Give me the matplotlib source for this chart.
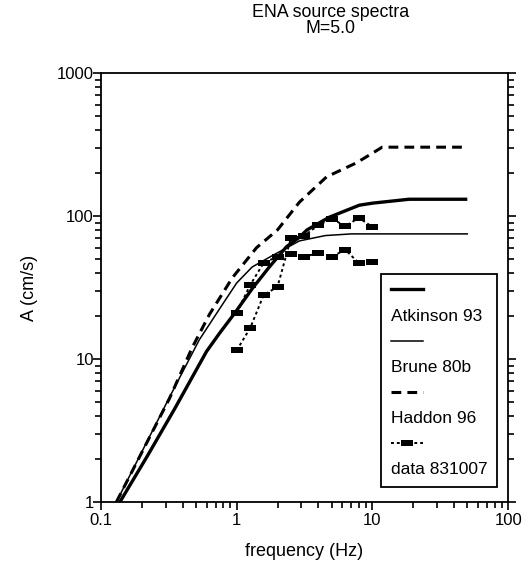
import matplotlib
matplotlib.use("Agg")
import matplotlib.pyplot as plt
from matplotlib.lines import Line2D
from matplotlib.ticker import LogLocator, FixedLocator, NullFormatter

plt.rcParams['font.family'] = ['Liberation Sans', 'DejaVu Sans']

# model curves
atk_f = [0.138, 0.22, 0.35, 0.60, 0.75, 0.97, 1.3, 1.74, 2.33, 2.9, 3.3, 4.8, 8.0, 10.0, 18.6, 50.0]
atk_a = [1.0, 2.1, 4.5, 11.3, 15.2, 21.0, 31.0, 44.0, 61.0, 71.0, 80.0, 98.0, 119.0, 123.0, 131.0, 131.0]

brune_f = [0.13, 0.32, 0.53, 0.75, 1.0, 1.3, 1.84, 2.9, 4.5, 7.0, 50.0]
brune_a = [1.0, 5.4, 13.6, 22.5, 34.0, 44.0, 53.0, 67.0, 73.0, 75.0, 75.0]

haddon_f = [0.13, 0.32, 0.47, 0.63, 0.93, 1.4, 2.0, 2.9, 4.6, 7.6, 10.0, 11.8, 48.0]
haddon_a = [1.0, 5.3, 12.0, 20.5, 37.0, 60.0, 80.0, 125.0, 188.0, 235.0, 275.0, 303.0, 303.0]

# observed spectra, event 831007 (two components)
data_f = [1.0, 1.26, 1.58, 2.0, 2.51, 3.16, 3.98, 5.01, 6.31, 7.94, 10.0]
data_a1 = [11.5, 16.5, 28.0, 32.0, 70.0, 73.0, 86.0, 96.0, 85.0, 97.0, 84.0]
data_a2 = [21.0, 33.0, 47.0, 52.0, 54.0, 52.0, 55.0, 52.0, 58.0, 47.0, 48.0]

x_ticks = [0.1, 1, 10, 100]
x_labels = ["0.1", "1", "10", "100"]
y_ticks = [1, 10, 100, 1000]
y_labels = ["1", "10", "100", "1000"]

rect = [(-1, -0.6), (1, -0.6), (1, 0.6), (-1, 0.6), (-1, -0.6)]

fig = plt.figure(figsize=(5.31, 5.66), dpi=100)
ax = fig.add_axes([0.190, 0.113, 0.767, 0.758])

ax.plot(atk_f, atk_a, color='black', lw=2.4, solid_capstyle='butt')
ax.plot(brune_f, brune_a, color='black', lw=1.1)
ax.plot(haddon_f, haddon_a, color='black', lw=2.2, linestyle=(0, (3.2, 2.0)))
ax.plot(data_f, data_a1, color='black', lw=1.4, linestyle=(0, (1.5, 1.5)),
        marker=rect, markersize=8, markerfacecolor='black', markeredgewidth=0)
ax.plot(data_f, data_a2, color='black', lw=1.4, linestyle=(0, (1.5, 1.5)),
        marker=rect, markersize=8, markerfacecolor='black', markeredgewidth=0)

ax.set_xscale('log')
ax.set_yscale('log')
ax.set_xlim(0.1, 100)
ax.set_ylim(1, 1000)

ax.xaxis.set_major_locator(FixedLocator(x_ticks))
ax.set_xticklabels(x_labels)
ax.yaxis.set_major_locator(FixedLocator(y_ticks))
ax.set_yticklabels(y_labels)
ax.xaxis.set_minor_locator(LogLocator(base=10, subs=range(2, 10)))
ax.yaxis.set_minor_locator(LogLocator(base=10, subs=range(2, 10)))
ax.xaxis.set_minor_formatter(NullFormatter())
ax.yaxis.set_minor_formatter(NullFormatter())

ax.tick_params(which='both', direction='out', right=True, top=False, width=1.2,
               labelsize=12, color='black')
ax.tick_params(which='major', length=6)
ax.tick_params(which='minor', length=4)
ax.tick_params(axis='y', pad=-1)
ax.tick_params(axis='x', pad=2)
for s in ax.spines.values():
    s.set_linewidth(1.3)

ax.set_xlabel('frequency (Hz)', fontsize=13, labelpad=11)
ax.set_ylabel('A (cm/s)', fontsize=13, labelpad=14)

fig.text(0.623, 0.978, 'ENA source spectra', ha='center', va='center', fontsize=12.8)
fig.text(0.623, 0.950, 'M=5.0', ha='center', va='center', fontsize=12.8)

# legend: handle on one row, label on the row below
blank = Line2D([], [], linestyle='none')
handles = [
    Line2D([], [], color='black', lw=2.4), blank,
    Line2D([], [], color='black', lw=1.1), blank,
    Line2D([], [], color='black', lw=2.2, linestyle=(0, (3.2, 2.0))), blank,
    Line2D([], [], color='black', lw=1.4, linestyle=(0, (1.5, 1.5)), marker=rect,
           markersize=8, markerfacecolor='black', markeredgewidth=0), blank,
]
labels = ['', 'Atkinson 93', '', 'Brune 80b', '', 'Haddon 96', '', 'data 831007']
leg = ax.legend(handles, labels, loc='lower right', bbox_to_anchor=(0.973, 0.035),
                borderaxespad=0, fontsize=12.5, handlelength=1.85, handletextpad=-1.85,
                labelspacing=0.6, borderpad=0.55, fancybox=False, framealpha=1,
                edgecolor='black')
leg.get_frame().set_linewidth(1.3)

fig.savefig('out.png', dpi=100)
